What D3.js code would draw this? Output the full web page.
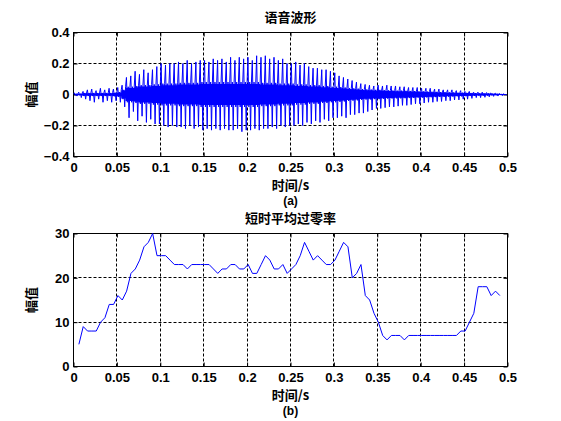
<!DOCTYPE html>
<html>
<head>
<meta charset="utf-8">
<script src="https://cdn.jsdelivr.net/npm/d3@7"></script>
<style>
  body { margin: 0; background: #fff; }
  svg { display: block; }
  .tick text { font-family: "Liberation Sans", Arial, sans-serif; font-size: 13px; font-weight: bold; fill: #000; }
  .lbl { font-family: "Noto Sans CJK SC", "Liberation Sans", sans-serif; font-size: 13px; font-weight: bold; fill: #000; }
  .tag { font-family: "Liberation Sans", Arial, sans-serif; font-size: 12px; font-weight: bold; fill: #000; }
</style>
</head>
<body>
<div id="chart"></div>
<script>
// x ticks shared by both panels
let xTicks = [0, 0.05, 0.1, 0.15, 0.2, 0.25, 0.3, 0.35, 0.4, 0.45, 0.5];
let waveTicks = [-0.4, -0.2, 0, 0.2, 0.4];
let zcrTicks = [0, 10, 20, 30];

// waveform envelope, read per 5 ms bin: upper spike, lower spike, dense core half-height
let binW = 0.005;
let waveHi = [0.01,0.015,0.02,0.03,0.035,0.025,0.04,0.03,0.04,0.035,
  0.045,0.06,0.11,0.12,0.15,0.13,0.16,0.14,0.16,0.18,
  0.2,0.19,0.2,0.2,0.21,0.2,0.22,0.2,0.21,0.22,
  0.22,0.21,0.23,0.22,0.23,0.21,0.24,0.22,0.24,0.23,
  0.24,0.22,0.25,0.24,0.25,0.23,0.24,0.22,0.23,0.2,
  0.2,0.21,0.19,0.2,0.18,0.17,0.17,0.16,0.16,0.15,
  0.14,0.12,0.11,0.1,0.09,0.08,0.07,0.065,0.06,0.055,
  0.06,0.055,0.06,0.055,0.055,0.05,0.05,0.045,0.045,0.045,
  0.04,0.04,0.04,0.035,0.035,0.03,0.03,0.03,0.025,0.025,
  0.02,0.02,0.015,0.015,0.015,0.012,0.01,0.008,0.006,0.004];
let waveLo = [-0.01,-0.02,-0.03,-0.04,-0.05,-0.03,-0.05,-0.04,-0.05,-0.04,
  -0.05,-0.08,-0.15,-0.11,-0.17,-0.14,-0.18,-0.16,-0.19,-0.19,
  -0.2,-0.21,-0.2,-0.21,-0.21,-0.22,-0.2,-0.22,-0.21,-0.23,
  -0.22,-0.23,-0.22,-0.23,-0.22,-0.23,-0.23,-0.22,-0.24,-0.23,
  -0.23,-0.22,-0.23,-0.22,-0.22,-0.21,-0.22,-0.2,-0.21,-0.2,
  -0.2,-0.19,-0.2,-0.18,-0.19,-0.17,-0.18,-0.16,-0.17,-0.15,
  -0.15,-0.14,-0.15,-0.13,-0.13,-0.12,-0.12,-0.11,-0.1,-0.09,
  -0.09,-0.085,-0.08,-0.08,-0.075,-0.07,-0.07,-0.065,-0.06,-0.06,
  -0.055,-0.05,-0.05,-0.045,-0.045,-0.04,-0.04,-0.035,-0.035,-0.03,
  -0.03,-0.025,-0.02,-0.02,-0.018,-0.015,-0.012,-0.01,-0.008,-0.005];
let waveCore = [0.005,0.005,0.01,0.01,0.01,0.01,0.01,0.01,0.01,0.012,
  0.015,0.03,0.05,0.05,0.055,0.06,0.06,0.06,0.065,0.065,
  0.07,0.07,0.07,0.07,0.075,0.075,0.075,0.075,0.075,0.08,
  0.08,0.08,0.08,0.08,0.08,0.08,0.08,0.08,0.08,0.08,
  0.08,0.08,0.08,0.075,0.075,0.075,0.075,0.07,0.07,0.07,
  0.07,0.065,0.065,0.065,0.06,0.06,0.06,0.055,0.055,0.05,
  0.05,0.048,0.045,0.042,0.04,0.038,0.035,0.033,0.032,0.03,
  0.03,0.028,0.027,0.026,0.025,0.025,0.024,0.023,0.022,0.02,
  0.02,0.019,0.018,0.017,0.016,0.015,0.014,0.013,0.012,0.012,
  0.011,0.01,0.009,0.008,0.008,0.007,0.006,0.005,0.004,0.003];

// short-time zero crossing rate, one value per frame
let zcrStart = 0.0062;
let zcrStep = 0.005;
let zcr = [5,9,8,8,8,10,11,14,14,16,
  15,17,21,22,24,27,28,30,25,25,
  25,24,23,23,23,22,23,23,23,23,
  23,22,21,22,22,23,23,22,22,23,
  21,21,23,25,24,22,22,23,21,22,
  23,25,28,26,24,25,24,23,23,24,
  26,28,27,20,21,23,16,15,12,10,
  7,6,7,7,7,6,7,7,7,7,
  7,7,7,7,7,7,7,7,8,8,
  10,12,18,18,18,16,17,16];

let W = 561, H = 421;
let svg = d3.select("#chart").append("svg").attr("width", W).attr("height", H);

let x = d3.scaleLinear().domain([0, 0.5]).range([73.5, 507.5]);
let yWave = d3.scaleLinear().domain([-0.4, 0.4]).range([156.5, 32.5]);
let yZcr = d3.scaleLinear().domain([0, 30]).range([366.5, 233.5]);

function fmt(d) { return d3.format("~g")(d); }

function drawPanel(y, yTicks, title, tag)
{
    let g = svg.append("g");
    let x0 = x.range()[0], x1 = x.range()[1];
    let yb = y.range()[0], yt = y.range()[1];
    let px = v => Math.round(v - 0.5) + 0.5;

    // dashed grid
    g.selectAll(".gx").data(xTicks.slice(1, -1)).join("line")
        .attr("x1", d => px(x(d))).attr("x2", d => px(x(d)))
        .attr("y1", yt).attr("y2", yb)
        .attr("stroke", "#000").attr("stroke-dasharray", "3,2");
    g.selectAll(".gy").data(yTicks.slice(1, -1)).join("line")
        .attr("y1", d => px(y(d))).attr("y2", d => px(y(d)))
        .attr("x1", x0).attr("x2", x1)
        .attr("stroke", "#000").attr("stroke-dasharray", "3,2");

    // axes with inward ticks
    let ax = g.append("g").attr("transform", `translate(0,${yb})`)
        .call(d3.axisBottom(x).tickValues(xTicks).tickFormat(fmt).tickSizeInner(-4).tickSizeOuter(0).tickPadding(6));
    let axt = g.append("g").attr("transform", `translate(0,${yt})`)
        .call(d3.axisTop(x).tickValues(xTicks).tickFormat("").tickSizeInner(-4).tickSizeOuter(0));
    let ay = g.append("g").attr("transform", `translate(${x0},0)`)
        .call(d3.axisLeft(y).tickValues(yTicks).tickFormat(fmt).tickSizeInner(-4).tickSizeOuter(0).tickPadding(4));
    let ayr = g.append("g").attr("transform", `translate(${x1},0)`)
        .call(d3.axisRight(y).tickValues(yTicks).tickFormat("").tickSizeInner(-4).tickSizeOuter(0));
    [ax, axt, ay, ayr].forEach(a => {
        a.select(".domain").remove();
        a.selectAll(".tick line").attr("stroke", "#000");
    });

    g.append("rect").attr("x", x0).attr("y", yt)
        .attr("width", x1 - x0).attr("height", yb - yt)
        .attr("fill", "none").attr("stroke", "#000");

    let cx = (x0 + x1) / 2;
    g.append("text").attr("class", "lbl").attr("x", cx).attr("y", yt - 10.5)
        .attr("text-anchor", "middle").text(title);
    g.append("text").attr("class", "lbl").attr("x", cx).attr("y", yb + 33.5)
        .attr("text-anchor", "middle").text("时间/s");
    g.append("text").attr("class", "tag").attr("x", cx).attr("y", yb + 48.5)
        .attr("text-anchor", "middle").text(tag);
    g.append("text").attr("class", "lbl")
        .attr("transform", `translate(36,${(yt + yb) / 2}) rotate(-90)`)
        .attr("text-anchor", "middle").text("幅值");
    return g;
}

let wavePanel = drawPanel(yWave, waveTicks, "语音波形", "(a)");
let zcrPanel = drawPanel(yZcr, zcrTicks, "短时平均过零率", "(b)");

// dense core of the waveform as a solid band
wavePanel.append("path")
    .attr("d", d3.area().curve(d3.curveStep)
        .x((d, i) => x(i * binW + 0.0025))
        .y0(d => yWave(-d * 0.85)).y1(d => yWave(d * 0.85))(waveCore))
    .attr("fill", "#0000ff");

// waveform: zig-zag through each bin's core band and its spikes
let wavePts = [];
waveHi.forEach((hi, i) => {
    let t0 = i * binW, c = waveCore[i];
    wavePts.push([t0, c], [t0 + 0.001, hi], [t0 + 0.002, -c], [t0 + 0.003, c], [t0 + 0.004, waveLo[i]]);
});
wavePanel.append("path")
    .attr("d", d3.line().x(d => x(d[0])).y(d => yWave(d[1]))(wavePts))
    .attr("fill", "none").attr("stroke", "#0000ff").attr("stroke-width", 1);

zcrPanel.append("path")
    .attr("d", d3.line().x((d, i) => x(zcrStart + i * zcrStep)).y(d => yZcr(d))(zcr))
    .attr("fill", "none").attr("stroke", "#0000ff").attr("stroke-width", 1);
</script>
</body>
</html>
